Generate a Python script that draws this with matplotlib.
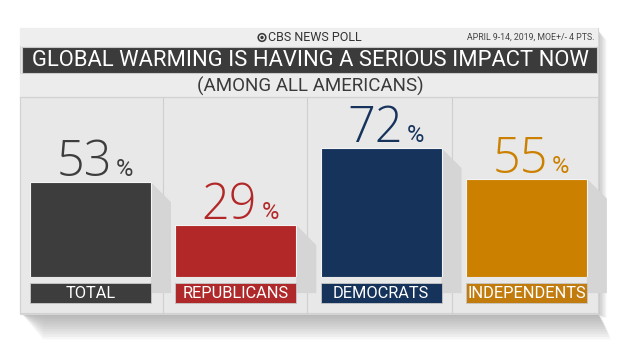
import matplotlib
matplotlib.use("Agg")
import matplotlib.pyplot as plt
from matplotlib.patches import Rectangle, Polygon, Circle

plt.rcParams['font.family'] = ['Roboto', 'DejaVu Sans']
LIGHT = ['Open Sans', 'Roboto', 'DejaVu Sans']

groups = ['TOTAL', 'REPUBLICANS', 'DEMOCRATS', 'INDEPENDENTS']
values = [53, 29, 72, 55]
bar_colors = ['#3d3d3d', '#b22828', '#16335b', '#cc8000']
label_colors = ['#3d3d3d', '#b0292a', '#16335b', '#c27c0e']

title = 'GLOBAL WARMING IS HAVING A SERIOUS IMPACT NOW'
subtitle = '(AMONG ALL AMERICANS)'
brand = 'CBS NEWS POLL'
note = 'APRIL 9-14, 2019, MOE+/- 4 PTS.'

W, H = 620, 349
fig = plt.figure(figsize=(W / 100, H / 100), dpi=100)
fig.patch.set_facecolor('white')

# background layer in pixel coordinates
bg = fig.add_axes([0, 0, 1, 1])
bg.set_xlim(0, W)
bg.set_ylim(H, 0)
bg.axis('off')

# card shadow (layered for a soft look)
for k in range(10):
    bg.add_patch(Polygon([(22, 314), (598, 314), (602 + k, 316 + k * 2.6),
                          (46 - k * 0.3, 316 + k * 2.6)], closed=True,
                         facecolor='#6a6a6a', alpha=0.06, lw=0))
for k in range(5):
    bg.add_patch(Polygon([(598, 30), (600 + k * 1.6, 36 + k), (600 + k * 1.6, 318),
                          (598, 314)], closed=True, facecolor='#6a6a6a',
                         alpha=0.08, lw=0))

# card body
bg.add_patch(Rectangle((20, 28), 578, 286, facecolor='#ebebeb',
                       edgecolor='#d6d6d6', lw=0.8))
bg.add_patch(Rectangle((20, 28), 578, 18, facecolor='#eeeeee', lw=0))
bg.add_patch(Rectangle((22, 47), 575, 26, facecolor='#3b3b3b',
                       edgecolor='#c8c8c8', lw=0.8))
bg.add_patch(Rectangle((20, 74), 578, 23, facecolor='#ececec', lw=0))
bg.plot([20, 598], [97, 97], color='#d2d2d2', lw=0.8)
bg.add_patch(Rectangle((20, 97), 578, 216, facecolor='#e8e8e8',
                       edgecolor='#d2d2d2', lw=0.8))
for xd in [163, 307, 452]:
    bg.plot([xd, xd], [97, 313], color='#cfcfcf', lw=0.8)

# header texts
bg.add_patch(Circle((262, 37.5), 4.6, facecolor='#3a3a3a', lw=0))
bg.add_patch(Circle((262, 37.5), 3.0, facecolor='#eeeeee', lw=0))
bg.add_patch(Circle((262, 37.5), 1.7, facecolor='#3a3a3a', lw=0))
bg.text(267.5, 37.5, brand, fontsize=9, color='#333333', ha='left', va='center')
bg.text(594, 37.5, note, fontsize=6.3, color='#444444', ha='right', va='center')
bg.text(310, 60.5, title, fontsize=15.8, color='white', ha='center', va='center')
bg.text(310, 86, subtitle, fontsize=13.5, color='#3a3a3a', ha='center',
        va='center')

# bar layer: value 0 at y=277 px, 100% = 179 px
left_px, right_px = 17.8, 599.0
ax = fig.add_axes([left_px / W, (H - 277) / H, (right_px - left_px) / W, 179 / H])
ax.set_xlim(-0.5, 3.5)
ax.set_ylim(0, 100)
ax.axis('off')

x = list(range(len(groups)))
bw = 0.833
px_x = (right_px - left_px) / 4
px_y = 179 / 100

# long shadows to the right of each bar
for i, v in enumerate(values):
    xr = i + bw / 2
    dx = 20 / px_x
    dy = 20 / px_y
    ax.add_patch(Polygon([(xr, v), (xr + dx, v - dy), (xr + dx, -9), (xr, -9)],
                         closed=True, facecolor='#d5d5d5', lw=0, clip_on=False))

ax.bar(x, values, width=bw, color=bar_colors, edgecolor='#f4f4f4', lw=0.8,
       zorder=3)
# label boxes below the bars
lab_bottom = -(303 - 277) / px_y
lab_top = -(283 - 277) / px_y
ax.bar(x, [lab_top - lab_bottom] * 4, bottom=lab_bottom, width=bw,
       color=label_colors, edgecolor='#c8c8c8', lw=0.6, zorder=3, clip_on=False)

for i, (g, v) in enumerate(zip(groups, values)):
    ax.text(i, (lab_top + lab_bottom) / 2, g, fontsize=11.8, color='white',
            ha='center', va='center', zorder=4, clip_on=False)
    ax.annotate(str(v), (i + 21.5 / px_x, v), xytext=(0, 4.3),
                textcoords='offset points', fontsize=35, family=LIGHT,
                fontweight='light', color=bar_colors[i], ha='right',
                va='baseline', annotation_clip=False)
    ax.annotate('%', (i + 25.5 / px_x, v), xytext=(0, 4.3),
                textcoords='offset points', fontsize=17,
                color=bar_colors[i], ha='left', va='baseline', annotation_clip=False)

fig.savefig('out.png', dpi=100, facecolor='white')
